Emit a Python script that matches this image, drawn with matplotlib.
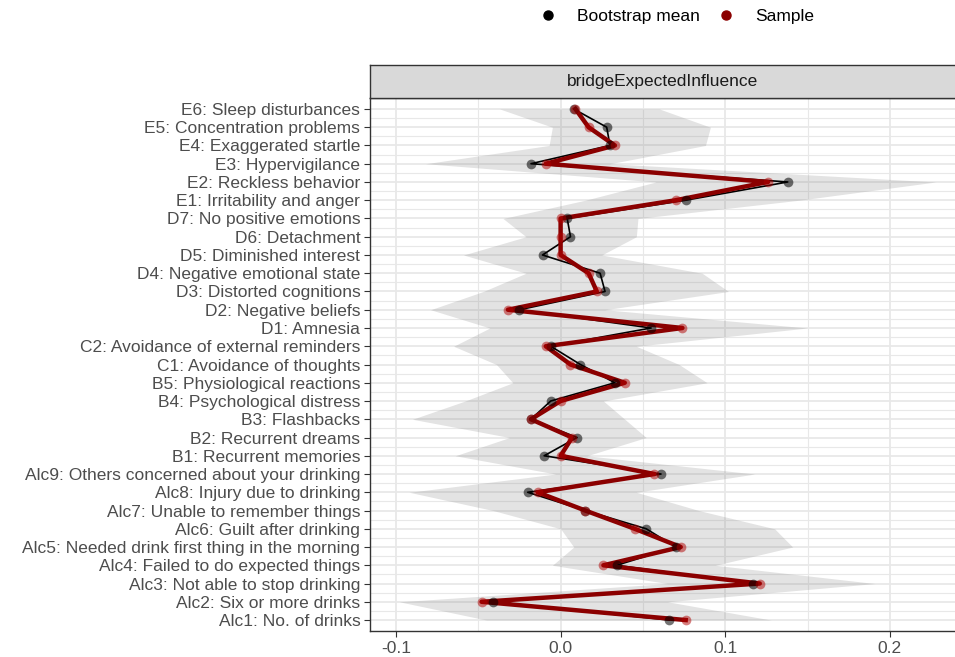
import numpy as np
import matplotlib
matplotlib.use('Agg')
import matplotlib.pyplot as plt
from matplotlib.lines import Line2D

plt.rcParams['font.family'] = ['Liberation Sans', 'DejaVu Sans']

# nodes, top to bottom as in the figure
nodes = [
    'E6: Sleep disturbances', 'E5: Concentration problems',
    'E4: Exaggerated startle', 'E3: Hypervigilance',
    'E2: Reckless behavior', 'E1: Irritability and anger',
    'D7: No positive emotions', 'D6: Detachment',
    'D5: Diminished interest', 'D4: Negative emotional state',
    'D3: Distorted cognitions', 'D2: Negative beliefs', 'D1: Amnesia',
    'C2: Avoidance of external reminders', 'C1: Avoidance of thoughts',
    'B5: Physiological reactions', 'B4: Psychological distress',
    'B3: Flashbacks', 'B2: Recurrent dreams', 'B1: Recurrent memories',
    'Alc9: Others concerned about your drinking',
    'Alc8: Injury due to drinking', 'Alc7: Unable to remember things',
    'Alc6: Guilt after drinking',
    'Alc5: Needed drink first thing in the morning',
    'Alc4: Failed to do expected things', 'Alc3: Not able to stop drinking',
    'Alc2: Six or more drinks', 'Alc1: No. of drinks',
]

boot_mean = [0.008, 0.028, 0.030, -0.018, 0.138, 0.076, 0.004, 0.006,
             -0.011, 0.024, 0.027, -0.025, 0.055, -0.006, 0.012, 0.033,
             -0.006, -0.018, 0.010, -0.010, 0.061, -0.020, 0.015, 0.052,
             0.070, 0.034, 0.117, -0.041, 0.066]
sample = [0.009, 0.017, 0.033, -0.009, 0.126, 0.070, 0.000, 0.000,
          0.000, 0.017, 0.022, -0.032, 0.074, -0.009, 0.006, 0.039,
          0.000, -0.018, 0.007, 0.000, 0.057, -0.014, 0.015, 0.045,
          0.073, 0.026, 0.121, -0.048, 0.076]
ci_lower = [-0.037, -0.005, -0.007, -0.082, 0.058, 0.015, -0.035, -0.021,
            -0.059, -0.021, -0.047, -0.079, -0.043, -0.065, -0.039, -0.029,
            -0.058, -0.090, -0.031, -0.064, -0.003, -0.092, -0.041, 0.000,
            0.008, -0.005, 0.065, -0.098, -0.045]
ci_upper = [0.060, 0.091, 0.088, 0.030, 0.228, 0.145, 0.047, 0.046,
            0.025, 0.086, 0.102, 0.027, 0.150, 0.046, 0.072, 0.089,
            0.026, 0.039, 0.052, 0.016, 0.118, 0.046, 0.084, 0.130,
            0.141, 0.094, 0.191, 0.065, 0.128]

x_ticks = [-0.1, 0.0, 0.1, 0.2]
facet_title = 'bridgeExpectedInfluence'

W, H = 955, 657
fig = plt.figure(figsize=(W / 100, H / 100), dpi=100)

# panel spans 370px -> past the right edge (ggplot output was cropped)
x0, x1 = -0.1158, 0.2425
px_per_unit = 1646.0
left_px, top_px, bottom_px = 370, 98, 631
width_px = (x1 - x0) * px_per_unit
ax = fig.add_axes([left_px / W, 1 - bottom_px / H,
                   width_px / W, (bottom_px - top_px) / H])

y = np.arange(len(nodes))
grid_c = '#e8e8e8'
for v in np.arange(-0.1, 0.26, 0.05):
    major = abs(round(v / 0.1) * 0.1 - v) < 1e-9
    ax.axvline(v, color=grid_c, lw=1.3 if major else 0.8, zorder=0)
for yy in y:
    ax.axhline(yy, color=grid_c, lw=1.3, zorder=0)
for yy in y[:-1] + 0.5:
    ax.axhline(yy, color=grid_c, lw=0.8, zorder=0)

ax.fill_betweenx(y, ci_lower, ci_upper, color='#808080', alpha=0.22,
                 lw=0, zorder=1)
ax.plot(boot_mean, y, color='black', lw=1.2, zorder=2)
ax.plot(sample, y, color='#8b0000', lw=3.2, zorder=3)
ax.plot(boot_mean, y, 'o', color='black', ms=7, alpha=0.55, mec='none',
        zorder=4)
ax.plot(sample, y, 'o', color='#b00000', ms=7, alpha=0.5, mec='none',
        zorder=5)

ax.set_xlim(x0, x1)
ax.set_ylim(len(nodes) - 1 + 0.6, -0.6)
ax.set_yticks(y)
ax.set_yticklabels(nodes)
ax.set_xticks(x_ticks)
ax.set_xticklabels(['{:.1f}'.format(t) for t in x_ticks])
ax.tick_params(axis='both', colors='#333333', labelcolor='#4d4d4d',
               labelsize=12.5, length=4, width=0.8, pad=3)
for s in ax.spines.values():
    s.set_color('#333333')
    s.set_linewidth(1.0)

# facet strip
strip = fig.add_axes([left_px / W, 1 - top_px / H,
                      width_px / W, 33 / H])
strip.set_facecolor('#d9d9d9')
strip.set_xticks([])
strip.set_yticks([])
for s in strip.spines.values():
    s.set_color('#333333')
    s.set_linewidth(1.0)
strip.text((955 - 370) / 2 / width_px, 0.5, facet_title,
           transform=strip.transAxes, ha='center', va='center',
           fontsize=12.5, color='#1a1a1a')

handles = [
    Line2D([], [], marker='o', ls='none', color='black', ms=6.5),
    Line2D([], [], marker='o', ls='none', color='#8b0000', ms=6.5),
]
fig.legend(handles, ['Bootstrap mean', 'Sample'], loc='center',
           bbox_to_anchor=(676 / W, 1 - 16 / H), ncol=2, frameon=False,
           fontsize=12.5, handlelength=1.2, handletextpad=1.1,
           columnspacing=0.9)

fig.savefig('out.png', dpi=100)
